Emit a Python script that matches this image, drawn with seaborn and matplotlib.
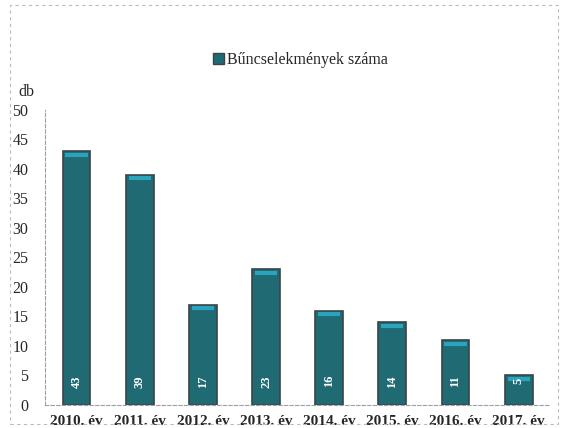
import pandas as pd
import numpy as np
import seaborn as sns
import matplotlib.pyplot as plt
from matplotlib.patches import Rectangle, Patch

# adatok
years = ['2010. év', '2011. év', '2012. év', '2013. év', '2014. év', '2015. év', '2016. év', '2017. év']
counts = [43, 39, 17, 23, 16, 14, 11, 5]
series_name = 'Bűncselekmények száma'

df = pd.DataFrame({'ev': years, 'db': counts})

sns.set_style('white')
plt.rcParams['font.family'] = ['Liberation Serif', 'DejaVu Serif']

fig = plt.figure(figsize=(5.62, 4.28), dpi=100)
ax = fig.add_axes([0.08, 0.054, 0.899, 0.689])

sns.barplot(data=df, x='ev', y='db', color='#1f6a73', width=0.44,
            edgecolor='#3a4447', linewidth=1.2, saturation=1, ax=ax)

# világosabb csík a hasábok tetején + feliratok
for p, v in zip(ax.patches, counts):
    x0 = p.get_x()
    w = p.get_width()
    ax.plot([x0 + w * 0.1, x0 + w * 0.9], [v - 0.6, v - 0.6], color='#2aa3bd', lw=3,
            solid_capstyle='butt')
    ax.text(x0 + w / 2, 4, str(v), rotation=90, ha='center', va='center',
            color='white', fontsize=9, fontweight='bold')

ax.set_ylim(0, 50)
ax.set_yticks(range(0, 51, 5))
ax.set_xlim(-0.5, len(years) - 0.5)
ax.set_xlabel('')
ax.set_ylabel('')
ax.tick_params(axis='y', labelsize=11.5, length=0, pad=12)
ax.tick_params(axis='x', labelsize=11, length=0, pad=7)
for t in ax.get_xticklabels():
    t.set_fontweight('bold')

for s in ['top', 'right']:
    ax.spines[s].set_visible(False)
ax.spines['left'].set_linestyle((0, (3, 2)))
ax.spines['left'].set_color('#9aa0a6')
ax.spines['left'].set_linewidth(0.8)
ax.spines['bottom'].set_linestyle((0, (3, 2)))
ax.spines['bottom'].set_color('#9aa0a6')
ax.spines['bottom'].set_linewidth(0.8)

ax.text(-0.052, 1.035, 'db', transform=ax.transAxes, fontsize=11.5, ha='left', va='bottom')

handle = Patch(facecolor='#1f6a73', edgecolor='#3a4447')
fig.legend([handle], [series_name], loc='center', bbox_to_anchor=(0.535, 0.86),
           frameon=False, fontsize=11.5, handlelength=0.7, handleheight=0.7,
           handletextpad=0.2)

# szaggatott keret a kép szélén
fig.patches.append(Rectangle((0.018, 0.01), 0.975, 0.978, transform=fig.transFigure,
                             fill=False, ls=(0, (3, 3)), lw=0.8, ec='#b8bcc0'))

fig.savefig('out.png', dpi=100)
